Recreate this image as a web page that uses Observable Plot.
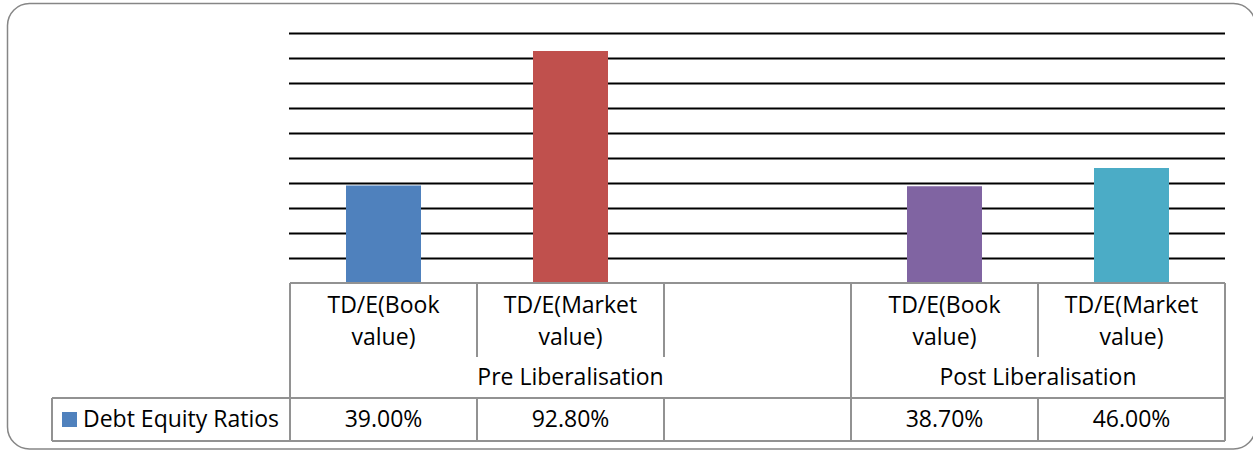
<!DOCTYPE html>
<html>
<head>
<meta charset="utf-8">
<script src="https://cdn.jsdelivr.net/npm/d3@7"></script>
<script src="https://cdn.jsdelivr.net/npm/@observablehq/plot@0.6"></script>
<style>
  html, body { margin: 0; padding: 0; background: #fff; overflow: hidden; }
  #chart { position: relative; width: 1253px; height: 451px; overflow: hidden; }
  svg { overflow: visible; }
</style>
</head>
<body>
<div id="chart"></div>
<script>
// ---- data ----
const keys = ["pre-book", "pre-market", "pre-blank", "post-book", "post-market"];
const categoryLines = [["TD/E(Book", "value)"], ["TD/E(Market", "value)"], [], ["TD/E(Book", "value)"], ["TD/E(Market", "value)"]];
const groups = ["Pre Liberalisation", "Pre Liberalisation", "Pre Liberalisation", "Post Liberalisation", "Post Liberalisation"];
const values = [39.0, 92.8, null, 38.7, 46.0];
const valueLabels = ["39.00%", "92.80%", "", "38.70%", "46.00%"];
const barColors = ["#4F81BD", "#C0504D", "#FFFFFF", "#8064A2", "#4BACC6"];
const seriesName = "Debt Equity Ratios";
const gridTicks = [10, 20, 30, 40, 50, 60, 70, 80, 90, 100];

const rows = keys.map((k, i) => ({key: k, value: values[i], color: barColors[i]})).filter(d => d.value != null);

const FONT = "'Open Sans', sans-serif";
const FS = 23;

const plot = Plot.plot({
  width: 1253,
  height: 451,
  marginLeft: 289,
  marginRight: 28,
  marginTop: 33,
  marginBottom: 168,
  style: {fontFamily: FONT, background: "transparent"},
  x: {domain: keys, paddingInner: 0.6, paddingOuter: 0.3, axis: null},
  y: {domain: [0, 100], axis: null},
  marks: [
    Plot.ruleY(gridTicks, {stroke: "#000", strokeWidth: 2}),
    Plot.barY(rows, {x: "key", y: "value", fill: "color"})
  ]
});

document.getElementById("chart").appendChild(plot);

// ---- data table under the plot, positioned from the library's scales ----
const xs = plot.scale("x");
const ys = plot.scale("y");
const step = xs.step, bw = xs.bandwidth;
const slotLeft = i => xs.apply(keys[i]) + bw / 2 - step / 2;
const slotRight = i => slotLeft(i) + step;
const slotCenter = i => xs.apply(keys[i]) + bw / 2;

const tableTop = ys.apply(0);
const catBottom = tableTop + 74;
const groupBottom = tableTop + 115;
const tableBottom = tableTop + 158;
const legendLeft = 52;

const svg = d3.select(plot);
const g = svg.append("g").attr("font-family", FONT).attr("font-size", FS).attr("fill", "#000");
const lineColor = "#929292";
const line = (x1, y1, x2, y2) => g.append("line")
  .attr("x1", x1).attr("y1", y1).attr("x2", x2).attr("y2", y2)
  .attr("stroke", lineColor).attr("stroke-width", 2);

const lastRight = slotRight(keys.length - 1);
// horizontal lines
line(slotLeft(0), tableTop, lastRight, tableTop);
line(legendLeft, groupBottom, lastRight, groupBottom);
line(legendLeft, tableBottom, lastRight, tableBottom);
line(legendLeft, groupBottom, legendLeft, tableBottom);

// vertical lines: group boundaries full height, inner boundaries split
for (let i = 0; i <= keys.length; i++) {
  const x = i < keys.length ? slotLeft(i) : lastRight;
  const isGroupEdge = i === 0 || i === keys.length || groups[i] !== groups[i - 1];
  if (isGroupEdge) {
    line(x, tableTop, x, tableBottom);
  } else {
    line(x, tableTop, x, catBottom);
    line(x, groupBottom, x, tableBottom);
  }
}

// category labels
categoryLines.forEach((lines, i) => {
  lines.forEach((t, j) => {
    g.append("text").attr("x", slotCenter(i)).attr("y", tableTop + 30 + j * 32)
      .attr("text-anchor", "middle").text(t);
  });
});

// group labels
const uniqueGroups = [...new Set(groups)];
uniqueGroups.forEach(gr => {
  const idx = groups.map((d, i) => d === gr ? i : -1).filter(i => i >= 0);
  const cx = (slotLeft(idx[0]) + slotRight(idx[idx.length - 1])) / 2;
  g.append("text").attr("x", cx).attr("y", tableTop + 102).attr("text-anchor", "middle").text(gr);
});

// values row
valueLabels.forEach((t, i) => {
  if (!t) return;
  g.append("text").attr("x", slotCenter(i)).attr("y", tableTop + 144).attr("text-anchor", "middle").text(t);
});

// legend key in the table
g.append("rect").attr("x", legendLeft + 10).attr("y", tableTop + 129).attr("width", 15).attr("height", 15).attr("fill", barColors[0]);
g.append("text").attr("x", legendLeft + 31).attr("y", tableTop + 144).attr("text-anchor", "start").text(seriesName);

// outer chart border
svg.append("rect").attr("x", 7.5).attr("y", 3.5).attr("width", 1248).attr("height", 445.5)
  .attr("rx", 22).attr("ry", 22).attr("fill", "none").attr("stroke", "#868686").attr("stroke-width", 1.5);
</script>
</body>
</html>
